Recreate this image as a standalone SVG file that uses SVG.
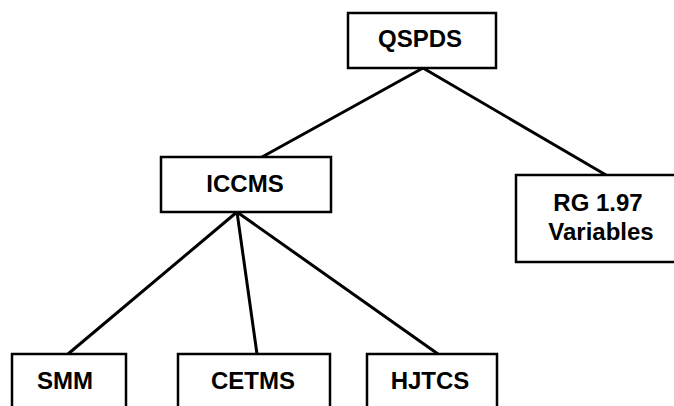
<svg xmlns="http://www.w3.org/2000/svg" width="674" height="406" viewBox="0 0 674 406">
<style>
.box{fill:#fff;stroke:#000;stroke-width:2.5}
.lbl{font-family:"Liberation Sans",Arial,sans-serif;font-weight:bold;font-size:24px;text-anchor:middle;fill:#000}
.edge{stroke:#000;stroke-width:3;fill:none;stroke-linecap:round}
</style>
<rect width="674" height="406" fill="#fff"/>
<g id="connectors">
<line class="edge" x1="423" y1="68" x2="262" y2="157"/>
<line class="edge" x1="423" y1="68" x2="606" y2="175"/>
<line class="edge" x1="237" y1="212" x2="68" y2="354"/>
<line class="edge" x1="237" y1="212" x2="257" y2="354"/>
<line class="edge" x1="237" y1="212" x2="438" y2="354"/>
</g>
<g id="QSPDS"><rect class="box" x="348" y="13" width="148" height="55"/><text class="lbl" x="420" y="47">QSPDS</text></g>
<g id="ICCMS"><rect class="box" x="161" y="157" width="170" height="55"/><text class="lbl" x="245" y="192">ICCMS</text></g>
<g id="RG197"><rect class="box" x="516" y="175" width="170" height="87"/><text class="lbl" x="598" y="211">RG 1.97</text><text class="lbl" x="601" y="240">Variables</text></g>
<g id="SMM"><rect class="box" x="12" y="354" width="114" height="70"/><text class="lbl" x="65" y="389">SMM</text></g>
<g id="CETMS"><rect class="box" x="178" y="354" width="152" height="70"/><text class="lbl" x="253" y="389">CETMS</text></g>
<g id="HJTCS"><rect class="box" x="367" y="354" width="130" height="70"/><text class="lbl" x="430" y="389">HJTCS</text></g>
</svg>
